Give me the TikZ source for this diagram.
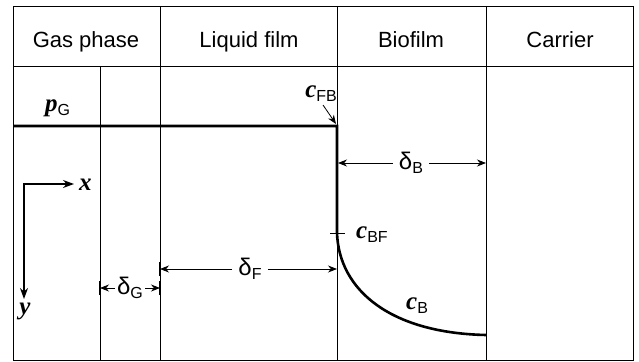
\documentclass[tikz,border=0pt]{standalone}
\usepackage{fontspec}
\setmainfont{Liberation Sans}
\newfontfamily\serifit{Liberation Serif}
\usetikzlibrary{arrows.meta}
\newcommand\mvar[1]{{\serifit\bfseries\itshape #1}}
\newcommand\lowsub[1]{\raisebox{-0.35ex}{\fontsize{16}{16}\selectfont #1}}

\begin{document}
\begin{tikzpicture}[
  x=1pt, y=-1pt,
  frame/.style={line width=0.9pt},
  profile/.style={line width=2.6pt},
  head/.style={anchor=base, font=\fontsize{22}{22}\selectfont},
  lab/.style={inner sep=1pt, font=\fontsize{25}{25}\selectfont},
  dimlab/.style={inner sep=2pt, font=\fontsize{24}{24}\selectfont},
  dim/.style={-{Stealth[length=9pt,width=7pt]}, line width=0.8pt},
  axis/.style={{Stealth[length=11pt,width=8pt]}-{Stealth[length=11pt,width=8pt]}, line width=1.1pt},
  tick/.style={line width=1.6pt}
]
\useasboundingbox (0,0) rectangle (639,361);

% frame and columns
\draw[frame] (13,6) rectangle (633,360);
\draw[frame] (13,66) -- (633,66);
\foreach \xc in {160,337,486}
  \draw[frame] (\xc,6) -- (\xc,360);
\draw[frame] (100,66) -- (100,360);

% column titles
\node[head] (gas) at (86,48) {Gas phase};
\node[head] (liquid) at (249,48) {Liquid film};
\node[head] (bio) at (411,48) {Biofilm};
\node[head] (carrier) at (560,48) {Carrier};

% concentration profile
\coordinate (start) at (13,126);
\coordinate (corner) at (337,126);
\coordinate (cbf) at (337,233);
\coordinate (cend) at (486,335);
\draw[profile] (start) -- (corner) -- (cbf) .. controls (339,290) and (390,333) .. (cend);
\draw[frame] ([xshift=-7pt]cbf) -- ([xshift=8pt]cbf);

\node[lab, anchor=base west] (pg) at (44,111) {\mvar{p}\lowsub{G}};
\node[lab, anchor=base east] (cfb) at (338,97) {\mvar{c}\lowsub{FB}};
\node[lab, anchor=base west] (cbflab) at (355,238) {\mvar{c}\lowsub{BF}};
\node[lab, anchor=base west] (cb) at (405,309) {\mvar{c}\lowsub{B}};
\coordinate (cfbtail) at (323,105);
\coordinate (cfbtip) at (336,124);
\draw[dim] (cfbtail) -- (cfbtip);

% axes
\coordinate (orig) at (24,184);
\coordinate (xend) at (74,184);
\coordinate (yend) at (24,299);
\draw[axis] (xend) -- (orig) -- (yend);
\node[lab, anchor=base west] (xlab) at (78,190) {\mvar{x}};
\node[lab, anchor=base] (ylab) at (25,314) {\mvar{y}};

% thicknesses
\coordinate (dgl) at (100,288);
\coordinate (dgr) at (160,288);
\node[dimlab] (dg) at (130,288) {δ\lowsub{G}};
\draw[dim] (dg) -- (dgl);
\draw[dim] (dg) -- (dgr);
\draw[tick] ([yshift=-7pt]dgl) -- ([yshift=7pt]dgl);
\draw[tick] ([yshift=-7pt]dgr) -- ([yshift=7pt]dgr);

\coordinate (dfl) at (160,269);
\coordinate (dfr) at (337,269);
\node[dimlab, inner sep=6pt] (df) at (250,269) {δ\lowsub{F}};
\draw[dim] (df) -- (dfl);
\draw[dim] (df) -- (dfr);
\draw[tick] ([yshift=-7pt]dfl) -- ([yshift=7pt]dfl);

\coordinate (dbl) at (338,163);
\coordinate (dbr) at (486,163);
\node[dimlab, inner sep=6pt] (db) at (411,163) {δ\lowsub{B}};
\draw[dim] (db) -- (dbl);
\draw[dim] (db) -- (dbr);
\end{tikzpicture}
\end{document}
